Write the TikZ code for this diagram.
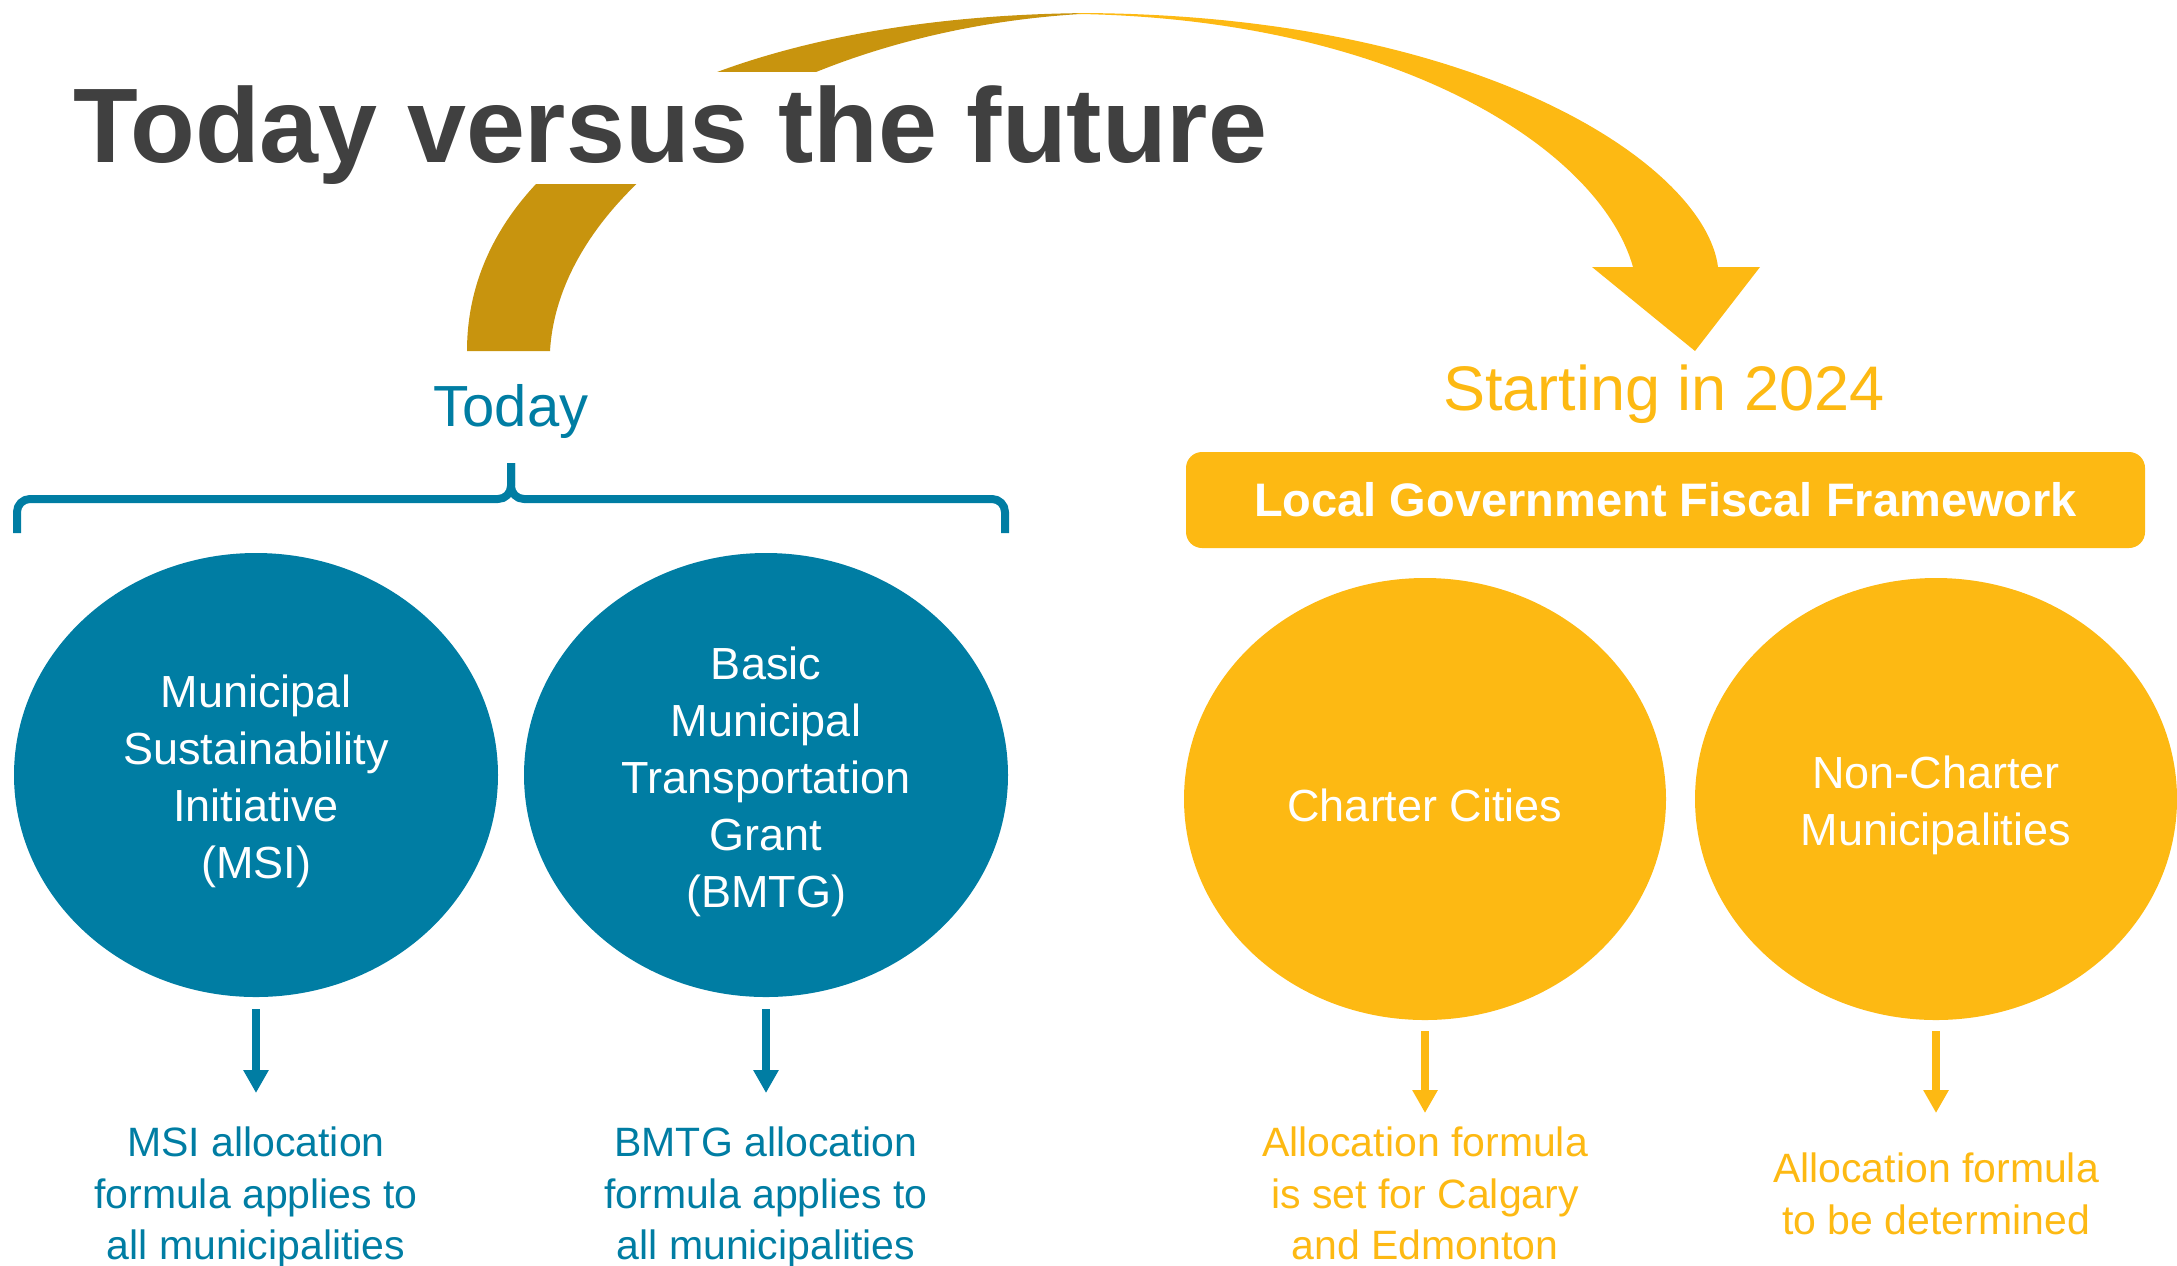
\documentclass[tikz,border=0pt]{standalone}
\usepackage{fontspec}
\setmainfont{Liberation Sans}
\usetikzlibrary{arrows.meta,shapes.geometric}
\definecolor{TodayClr}{RGB}{0,125,163}
\definecolor{FutureClr}{RGB}{253,185,19}
\definecolor{BackClr}{RGB}{200,148,14}
\definecolor{TitleClr}{RGB}{64,64,64}
\newcommand{\lift}{\rule{0pt}{23pt}}

\begin{document}
\begin{tikzpicture}[x=0.5pt,y=-0.5pt,
  bubble/.style={ellipse,inner sep=0pt,outer sep=0pt,align=center,text=white,
    font=\fontsize{22.5}{28.5}\selectfont},
  note/.style={anchor=north,inner sep=0pt,outer sep=0pt,align=center,
    font=\fontsize{20.5}{25.75}\selectfont},
  down/.style={line width=4pt,-{Triangle[length=11.5pt,width=12pt]}}]
\useasboundingbox (0,0) rectangle (2177,1265);

% curved arrow, back and front
\fill[BackClr] (467,351) .. controls (467,148) and (720,13) .. (1100,13)
  .. controls (800,25) and (560,180) .. (550,351) -- cycle;
\fill[FutureClr] (1075,13) .. controls (1480,13) and (1705,165) .. (1718,267)
  -- (1760,267) -- (1695,351) -- (1592,267) -- (1633,267)
  .. controls (1600,150) and (1400,20) .. (1080,14) -- cycle;

\node[anchor=base west,inner sep=0pt,fill=white,text=TitleClr,text height=45pt,text depth=11pt,
  font=\bfseries\fontsize{53}{60}\selectfont] (title) at (73,162) {Today versus the future};

% today
\node[anchor=base,text=TodayClr,font=\fontsize{29}{34}\selectfont] (today) at (511,426) {Today};
\draw[TodayClr,line width=4pt,line join=round]
  (17,533) -- (17,512) to[out=90,in=180] (30,499) -- (498,499) to[out=0,in=-90] (511,486) -- (511,463);
\draw[TodayClr,line width=4pt,line join=round]
  (1005,533) -- (1005,512) to[out=90,in=0] (992,499) -- (524,499) to[out=180,in=-90] (511,486) -- (511,463);

\node[bubble,fill=TodayClr,minimum width=242pt,minimum height=222pt] (msi) at (256,775)
  {\lift Municipal\\Sustainability\\Initiative\\(MSI)};
\node[bubble,fill=TodayClr,minimum width=242pt,minimum height=222pt] (bmtg) at (766,775)
  {\lift Basic\\Municipal\\Transportation\\Grant\\(BMTG)};

\node[note,text=TodayClr] (msinote) at (256,1127) {MSI allocation\\formula applies to\\all municipalities};
\node[note,text=TodayClr] (bmtgnote) at (766,1127) {BMTG allocation\\formula applies to\\all municipalities};

\draw[down,TodayClr,shorten <=6pt,shorten >=17pt] (msi) -- (msinote);
\draw[down,TodayClr,shorten <=6pt,shorten >=17pt] (bmtg) -- (bmtgnote);

% starting in 2024
\node[anchor=base,text=FutureClr,font=\fontsize{31.5}{36}\selectfont] (start) at (1664,410) {Starting in 2024};
\node[fill=FutureClr,rounded corners=8pt,minimum width=479.5pt,minimum height=48pt,inner sep=0pt,
  text=white,font=\bfseries\fontsize{23.5}{28}\selectfont] (lgff) at (1665.5,500)
  {Local Government Fiscal Framework};

\node[bubble,fill=FutureClr,minimum width=241pt,minimum height=221pt] (charter) at (1425,799)
  {\lift Charter Cities};
\node[bubble,fill=FutureClr,minimum width=241pt,minimum height=221pt] (noncharter) at (1936,799)
  {\lift Non-Charter\\Municipalities};

\node[note,text=FutureClr] (charternote) at (1425,1127) {Allocation formula\\is set for Calgary\\and Edmonton};
\node[note,text=FutureClr] (noncharternote) at (1936,1153) {Allocation formula\\to be determined};

\draw[down,FutureClr,shorten <=5.5pt,shorten >=7pt] (charter) -- (charternote);
\draw[down,FutureClr,shorten <=5.5pt,shorten >=20pt] (noncharter) -- (noncharternote);

\end{tikzpicture}
\end{document}
